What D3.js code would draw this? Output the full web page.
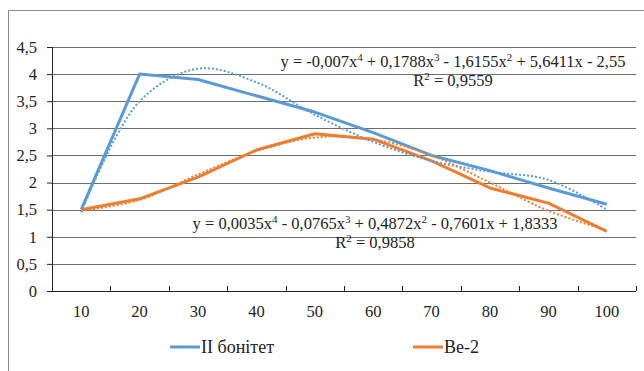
<!DOCTYPE html>
<html>
<head>
<meta charset="utf-8">
<script src="https://cdn.jsdelivr.net/npm/d3@7"></script>
<style>
  body { margin: 0; background: #fff; }
</style>
</head>
<body>
<svg id="chart" width="644" height="371"></svg>
<script>
// chart data
const ages = ['10', '20', '30', '40', '50', '60', '70', '80', '90', '100'];
const bonitet2 = [1.5, 4.0, 3.9, 3.6, 3.3, 2.92, 2.5, 2.22, 1.9, 1.6];
const ve2 = [1.5, 1.7, 2.1, 2.6, 2.9, 2.8, 2.4, 1.9, 1.62, 1.1];
const bonitet2Trend = [1.45, 3.5, 4.1, 3.85, 3.25, 2.75, 2.4, 2.2, 2.05, 1.5];
const ve2Trend = [1.48, 1.68, 2.15, 2.58, 2.83, 2.8, 2.5, 2.0, 1.48, 1.12];
const yTicks = [0, 0.5, 1, 1.5, 2, 2.5, 3, 3.5, 4, 4.5];
const seriesNames = ['II бонітет', 'Ве-2'];
const colors = ['#5B9BD5', '#ED7D31'];

const FONT = 'Liberation Serif';
const FS = 16.5;
const svg = d3.select('#chart');
const margins = { top: 47, left: 52, right: 8, bottom: 80 };
const width = 644 - margins.left - margins.right;
const height = 371 - margins.top - margins.bottom;

const locale = d3.formatLocale({ decimal: ',', thousands: ' ', grouping: [3], currency: ['', ''] });
const fmt = locale.format('~g');

// outer frame
svg.append('rect')
    .attr('x', 8.5).attr('y', 10.5)
    .attr('width', 700).attr('height', 400)
    .attr('fill', 'none').attr('stroke', '#8c8c8c').attr('stroke-width', 1);

const g = svg.append('g').attr('transform', `translate(${margins.left}, ${margins.top})`);

const x = d3.scaleBand().domain(ages).range([0, width]).padding(0);
const y = d3.scaleLinear().domain([0, 4.5]).range([height, 0]);
const cx = (d) => x(d) + x.bandwidth() / 2;

// grid
g.append('g').selectAll('line').data(yTicks.filter((t) => t > 0)).enter().append('line')
    .attr('x1', 0).attr('x2', width)
    .attr('y1', (d) => Math.round(y(d)) + 0.5).attr('y2', (d) => Math.round(y(d)) + 0.5)
    .attr('stroke', '#6e6e6e').attr('stroke-width', 1);

// y axis
const yAxis = g.append('g').attr('class', 'axis y-axis')
    .call(d3.axisLeft(y).tickValues(yTicks).tickSize(5).tickPadding(10).tickFormat(fmt));
yAxis.attr('font-family', FONT).attr('font-size', FS);
yAxis.selectAll('text').attr('fill', '#222');
yAxis.selectAll('line, path').attr('stroke', '#222');
yAxis.select('.domain').attr('d', `M0.5,${height}V0`);

// x axis
const xAxis = g.append('g').attr('class', 'axis x-axis')
    .attr('transform', `translate(0, ${height})`)
    .call(d3.axisBottom(x).tickSize(0).tickPadding(14));
xAxis.attr('font-family', FONT).attr('font-size', FS);
xAxis.selectAll('text').attr('fill', '#222');
xAxis.select('.domain').attr('d', `M-5,0.5H${width}`).attr('stroke', '#222');
xAxis.selectAll('line.bound').data(ages.map((a) => x(a) + x.bandwidth()).concat([0])).enter().append('line')
    .attr('class', 'bound')
    .attr('x1', (d) => Math.round(d) + 0.5).attr('x2', (d) => Math.round(d) + 0.5)
    .attr('y1', 0).attr('y2', -5)
    .attr('stroke', '#222');

// lines
const line = d3.line().x((d, i) => cx(ages[i])).y((d) => y(d));
const trend = d3.line().x((d, i) => cx(ages[i])).y((d) => y(d)).curve(d3.curveCatmullRom.alpha(0.5));

[bonitet2, ve2].forEach((s, i) => {
    g.append('path').datum(s).attr('d', line)
        .attr('fill', 'none').attr('stroke', colors[i]).attr('stroke-width', 3)
        .attr('stroke-linejoin', 'round');
});
[bonitet2Trend, ve2Trend].forEach((s, i) => {
    g.append('path').datum(s).attr('d', trend)
        .attr('fill', 'none').attr('stroke', colors[i]).attr('stroke-width', 2)
        .attr('stroke-dasharray', '2,2');
});

// trendline equations
function equation(cxPos, yBase, parts, r2) {
    const t = svg.append('text').attr('x', cxPos).attr('y', yBase)
        .attr('text-anchor', 'middle').attr('font-family', FONT).attr('font-size', FS).attr('fill', '#222');
    let lift = 0;
    parts.forEach((p) => {
        t.append('tspan').text(p[0]).attr('dy', lift ? 6 : null);
        lift = 0;
        if (p[1]) { t.append('tspan').text(p[1]).attr('font-size', 11).attr('dy', -6); lift = 1; }
    });
    const r = svg.append('text').attr('x', cxPos).attr('y', yBase + 19)
        .attr('text-anchor', 'middle').attr('font-family', FONT).attr('font-size', FS).attr('fill', '#222');
    r.append('tspan').text('R');
    r.append('tspan').text('2').attr('font-size', 11).attr('dy', -6);
    r.append('tspan').text(' = ' + r2).attr('dy', 6);
}
equation(453, 67, [['y = -0,007x', '4'], [' + 0,1788x', '3'], [' - 1,6155x', '2'], [' + 5,6411x - 2,55']], '0,9559');
equation(375, 229, [['y = 0,0035x', '4'], [' - 0,0765x', '3'], [' + 0,4872x', '2'], [' - 0,7601x + 1,8333']], '0,9858');

// legend
const legendX = [170, 413];
seriesNames.forEach((n, i) => {
    const le = svg.append('g').attr('transform', `translate(${legendX[i]}, 347)`);
    le.append('line').attr('x1', 0).attr('x2', 30).attr('y1', 0).attr('y2', 0)
        .attr('stroke', colors[i]).attr('stroke-width', 3);
    le.append('text').attr('x', 31).attr('y', 6).attr('font-family', FONT).attr('font-size', 18)
        .attr('fill', '#222').text(n);
});
</script>
</body>
</html>
